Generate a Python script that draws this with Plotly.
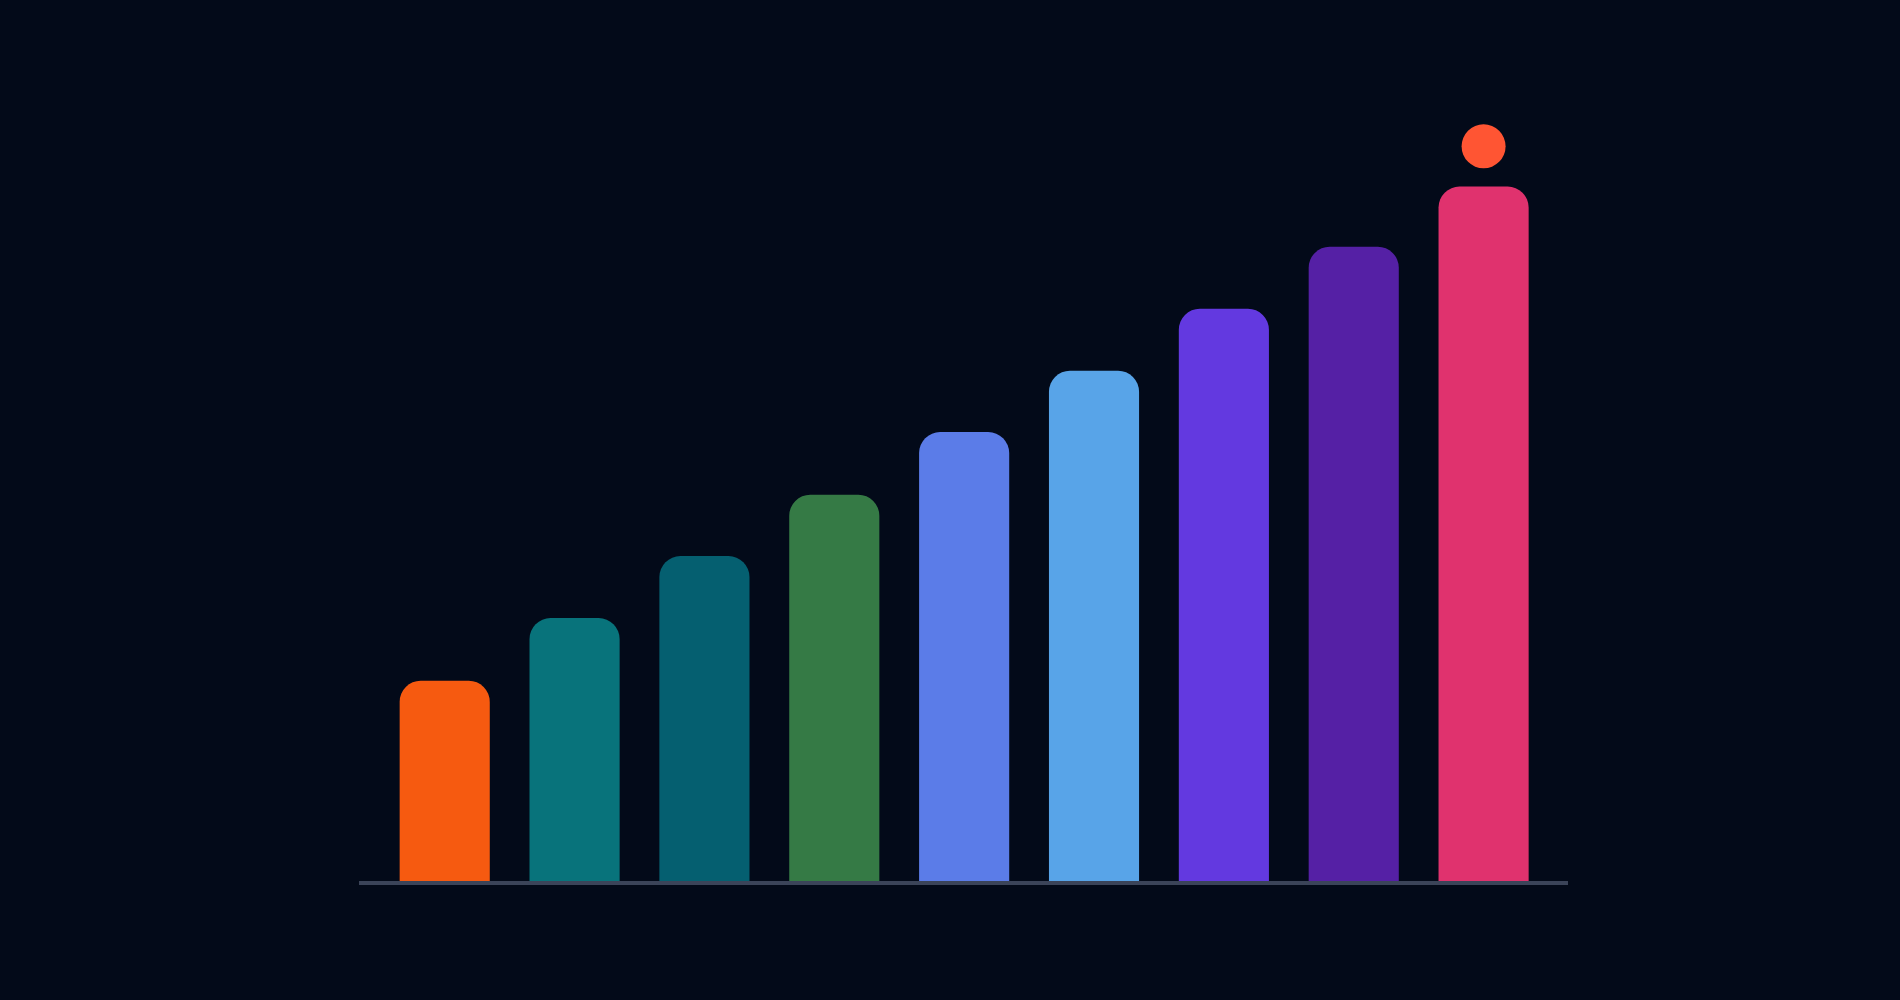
import plotly.graph_objects as go

categories = ["A", "B", "C", "D", "E", "F", "G", "H", "I"]
values = [32.3, 42.4, 52.4, 62.3, 72.4, 82.3, 92.3, 102.3, 112.0]
bar_colors = ["#F65A10", "#08737B", "#055F70", "#357A45", "#5B7CE8",
              "#58A4E8", "#6339E0", "#5520A5", "#E0326E"]
highlight_category = ["I"]
highlight_value = [118.5]

BG = "#030a19"

fig = go.Figure()
fig.add_trace(go.Bar(
    x=categories, y=values,
    marker=dict(color=bar_colors, line=dict(width=0)),
    width=0.694,
    hoverinfo="skip",
))
fig.add_trace(go.Scatter(
    x=highlight_category, y=highlight_value, mode="markers",
    marker=dict(size=44, color="#FF5533", line=dict(width=0)),
    cliponaxis=False, hoverinfo="skip",
))

fig.update_layout(
    width=1900, height=1000,
    margin=dict(l=359, r=332, t=75, b=119),
    paper_bgcolor=BG, plot_bgcolor=BG,
    showlegend=False,
    barcornerradius=21,
    xaxis=dict(range=[-0.66, 8.65], showgrid=False, zeroline=False,
               showticklabels=False, ticks="", showline=True,
               linecolor="#3b4459", linewidth=4, fixedrange=True),
    yaxis=dict(range=[0, 130], showgrid=False, zeroline=False,
               showticklabels=False, ticks="", showline=False, fixedrange=True),
)

post = ("document.body.style.margin='0';"
        "document.body.style.padding='0';"
        "document.body.style.overflow='hidden';"
        f"document.body.style.background='{BG}';"
        f"document.documentElement.style.background='{BG}';")

fig.write_html("out.html", config={"displayModeBar": False}, post_script=post)
